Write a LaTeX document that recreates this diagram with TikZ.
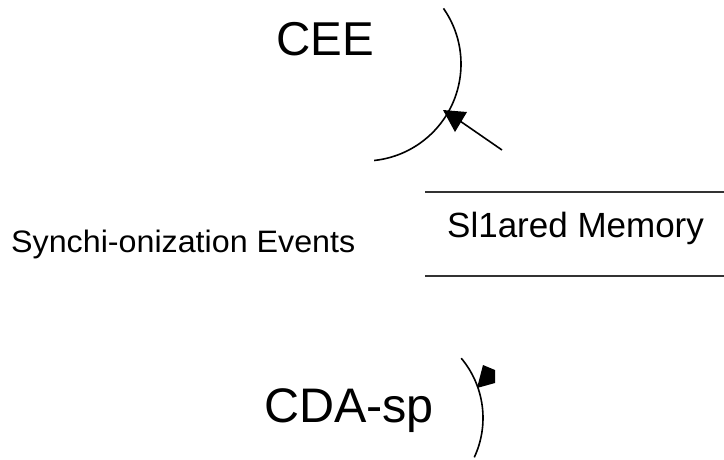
\documentclass[tikz,border=0pt]{standalone}
\usepackage{fontspec}
\setmainfont{Liberation Sans}
\tikzset{
  lbl/.style={anchor=base west,inner sep=0pt},
  rule/.style={line width=1.5pt,color=black!80},
  curve/.style={line width=1.6pt},
}
\begin{document}
\begin{tikzpicture}[x=1pt,y=1pt]
        \useasboundingbox (0,0) rectangle (724,-459);
        \node[lbl,font=\fontsize{47.5}{50}\selectfont] (cee) at (276,-55) {CEE};
        \node[lbl,font=\fontsize{48.5}{50}\selectfont] (cda) at (264,-422) {CDA-sp};
        \node[lbl,font=\fontsize{35}{38}\selectfont] (mem) at (447,-237) {Sl1ared Memory};
        \node[lbl,font=\fontsize{31}{34}\selectfont] (sync) at (11,-252) {\scalebox{1.04}[1]{Synchi-onization Events}};
        \draw[curve] (364,-64) ++(35:97) arc[start angle=35,end angle=-84,radius=97];
        \draw[curve] (390,-418) ++(40:93) arc[start angle=40,end angle=-25,radius=93];
        \draw[rule] (425,-192) -- (724,-192);
        \draw[rule,line width=2.2pt] (425,-276) -- (724,-276);
        \coordinate (topfrom) at (502,-150);
        \coordinate (topto) at (460,-121);
        \draw[curve] (topfrom) -- (topto);
        \fill (443,-110) -- (467,-112) -- (455,-132) -- cycle;
        \fill (477,-388) -- (483,-365) -- (495,-370) -- (495,-383) -- cycle;
    \end{tikzpicture}
\end{document}
